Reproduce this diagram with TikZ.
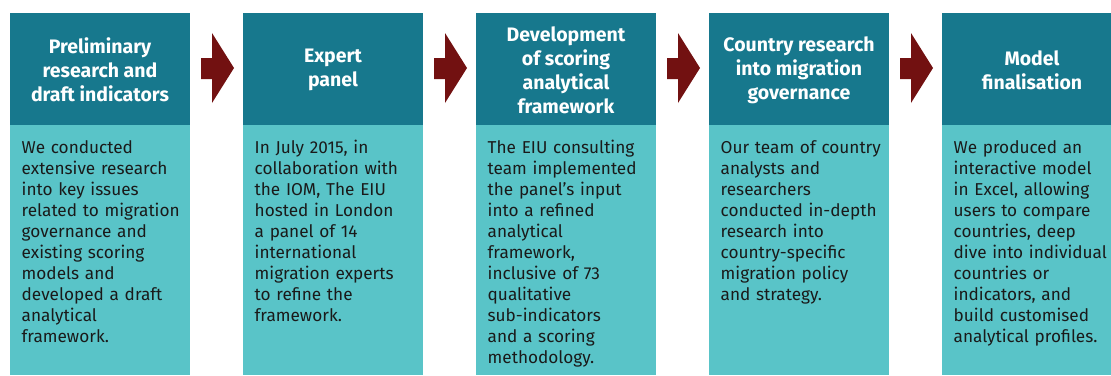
\documentclass[tikz,border=0pt]{standalone}
\usepackage{fontspec}
\setmainfont{Fira Sans}
\definecolor{headc}{HTML}{17788D}
\definecolor{bodyc}{HTML}{59C4C8}
\definecolor{arrc}{HTML}{721111}
\definecolor{txtc}{HTML}{1A1A1A}
\tikzset{
  headbox/.style={fill=headc,draw=none},
  bodybox/.style={fill=bodyc,draw=none},
  headtext/.style={text=white,font=\fontsize{19.5}{24}\selectfont\bfseries,align=center,inner sep=0pt,anchor=center},
  bodytext/.style={text=txtc,font=\fontsize{17.2}{21}\selectfont,align=left,text width=178pt,inner sep=0pt,anchor=base west},
  chevron/.style={fill=arrc,draw=none}
}
\begin{document}
\begin{tikzpicture}[x=1pt,y=-1pt]
\useasboundingbox (0,0) rectangle (1111,375);
\foreach \i/\x in {1/10,2/243,3/476,4/709,5/942}{
  \fill[bodybox] (\x,125) rectangle ({min(\x+180,1111)},375);
  \fill[headbox] (\x,13) rectangle ({min(\x+180,1111)},125);
  \coordinate (h\i) at (\x+90,70);
  \coordinate (b\i) at (\x+11.5,153);
}
\node[headtext] (t1) at (h1) {Preliminary\\research and\\draft indicators};
\node[headtext] (t2) at (h2) {Expert\\panel};
\node[headtext] (t3) at (h3) {Development\\of scoring\\analytical\\framework};
\node[headtext] (t4) at (h4) {Country research\\into migration\\governance};
\node[headtext] (t5) at (h5) {Model\\finalisation};
\node[bodytext] (d1) at (b1) {We conducted\\extensive research\\into key issues\\related to migration\\governance and\\existing scoring\\models and\\developed a draft\\analytical\\framework.};
\node[bodytext] (d2) at (b2) {In July 2015, in\\collaboration with\\the IOM, The EIU\\hosted in London\\a panel of 14\\international\\migration experts\\to refine the\\framework.};
\node[bodytext] (d3) at (b3) {The EIU consulting\\team implemented\\the panel’s input\\into a refined\\analytical\\framework,\\inclusive of 73\\qualitative\\sub-indicators\\and a scoring\\methodology.};
\node[bodytext] (d4) at (b4) {Our team of country\\analysts and\\researchers\\conducted in-depth\\research into\\country-specific\\migration policy\\and strategy.};
\node[bodytext] (d5) at (b5) {We produced an\\interactive model\\in Excel, allowing\\users to compare\\countries, deep\\dive into individual\\countries or\\indicators, and\\build customised\\analytical profiles.};
\foreach \x in {190,423,656,889}{
  \fill[chevron] (\x+11,58) -- (\x+22,58) -- (\x+22,33) -- (\x+44,68) -- (\x+22,103) -- (\x+22,79) -- (\x+11,79) -- cycle;
}
\end{tikzpicture}
\end{document}
